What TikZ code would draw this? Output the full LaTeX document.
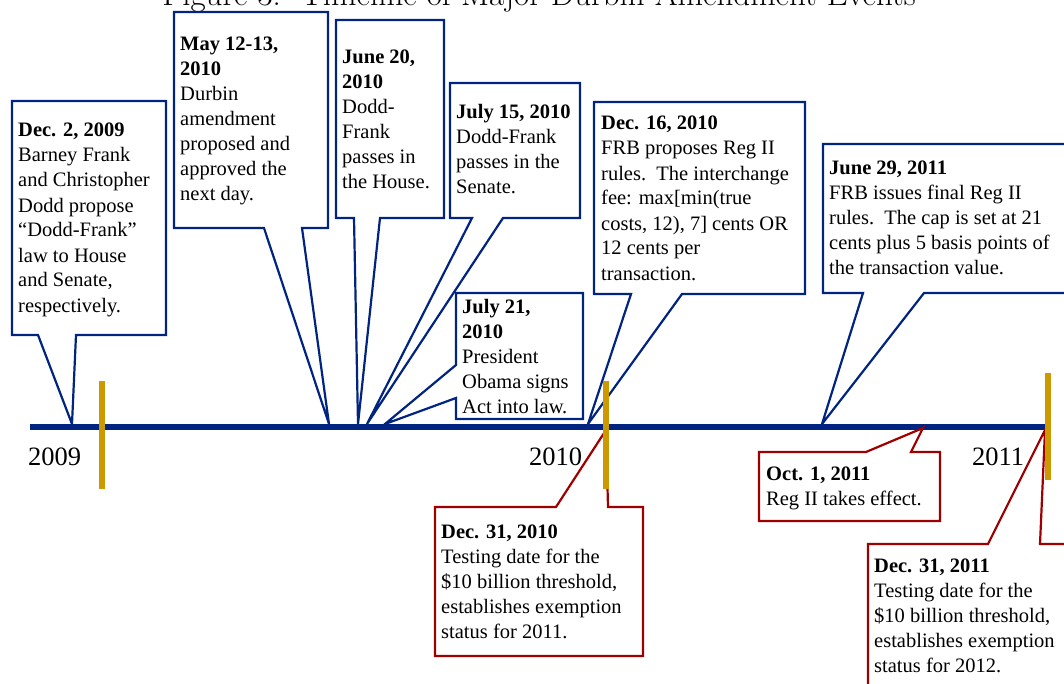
\documentclass[tikz,border=0pt]{standalone}
\usepackage{fontspec}
\newfontfamily\timesfont{Liberation Serif}
\definecolor{lineblue}{RGB}{0,36,128}
\definecolor{boxred}{RGB}{158,0,0}
\definecolor{tickgold}{RGB}{204,153,0}

\begin{document}
\begin{tikzpicture}[x=1pt,y=-1pt,
    every node/.style={inner sep=0pt},
    event/.style={anchor=base west, align=left, font=\timesfont\fontsize{20.5}{25}\selectfont},
    year/.style={anchor=base west, font=\timesfont\fontsize{26.5}{30}\selectfont},
    bluecall/.style={draw=lineblue, line width=2.2pt},
    redcall/.style={draw=boxred, line width=2.2pt},
    yeartick/.style={draw=tickgold, line width=6pt}]
  \useasboundingbox (0,0) rectangle (1064,684);

  % title, cut off by the top of the page
  \node (title) [anchor=base, font=\fontsize{33}{38}\selectfont] at (539,6) {Figure 3:\ \ Timeline of Major Durbin Amendment Events};

  % time line and the points the callouts touch
  \coordinate (line-start) at (30,427);
  \coordinate (line-end) at (1048,427);
  \coordinate (tip-dec2) at (72,424);
  \coordinate (tip-may) at (329,424);
  \coordinate (tip-june20) at (358,424);
  \coordinate (tip-july15) at (367,424);
  \coordinate (tip-july21) at (385,424);
  \coordinate (tip-dec16) at (588,424);
  \coordinate (tip-june29) at (822,424);
  \coordinate (tip-dec31a) at (606,430);
  \coordinate (tip-oct1) at (923,428);
  \coordinate (tip-dec31b) at (1045,430);

  \draw[lineblue, line width=6.5pt] (line-start) -- (line-end);

  % callouts above the line
  \draw[bluecall] (12,101) -- (166,101) -- (166,335) -- (76,335) -- (tip-dec2) -- (38,335) -- (12,335) -- cycle;
  \draw[bluecall] (174,12) -- (328,12) -- (328,228) -- (302,228) -- (tip-may) -- (264,228) -- (174,228) -- cycle;
  \draw[bluecall] (336,20) -- (444,20) -- (444,218) -- (380,218) -- (tip-june20) -- (354,218) -- (336,218) -- cycle;
  \draw[bluecall] (450,83) -- (580,83) -- (580,218) -- (503,218) -- (tip-july15) -- (472,218) -- (450,218) -- cycle;
  \draw[bluecall] (456,293) -- (583,293) -- (583,419) -- (456,419) -- (456,398) -- (tip-july21) -- (456,365) -- cycle;
  \draw[bluecall] (594,102) -- (805,102) -- (805,294) -- (682,294) -- (tip-dec16) -- (631,294) -- (594,294) -- cycle;
  \draw[bluecall] (823,144) -- (1080,144) -- (1080,293) -- (924,293) -- (tip-june29) -- (863,293) -- (823,293) -- cycle;

  % callouts below the line
  \draw[redcall] (435,507) -- (556,507) -- (tip-dec31a) -- (608,507) -- (643,507) -- (643,656) -- (435,656) -- cycle;
  \draw[redcall] (759,452) -- (866,452) -- (tip-oct1) -- (911,452) -- (940,452) -- (940,521) -- (759,521) -- cycle;
  \draw[redcall] (868,544) -- (988,544) -- (tip-dec31b) -- (1040,544) -- (1080,544) -- (1080,700) -- (868,700) -- cycle;

  % year marks
  \draw[yeartick] (102,381) -- (102,489);
  \draw[yeartick] (606,381) -- (606,489);
  \draw[yeartick] (1048,373) -- (1048,480);
  \node (y2009) [year] at (28,465) {2009};
  \node (y2010) [year] at (529,465) {2010};
  \node (y2011) [year] at (972,465) {2011};

  % texts, placed by the baseline of their last line
  \node (dec2) [event] at (18,312) {\textbf{Dec. 2, 2009}\\Barney Frank\\and Christopher\\Dodd propose\\“Dodd-Frank”\\law to House\\and Senate,\\respectively.};
  \node (may) [event] at (180,201) {\textbf{May 12-13,}\\\textbf{2010}\\Durbin\\amendment\\proposed and\\approved the\\next day.};
  \node (june20) [event] at (342,189) {\textbf{June 20,}\\\textbf{2010}\\Dodd-\\Frank\\passes in\\the House.};
  \node (july15) [event] at (456,194) {\textbf{July 15, 2010}\\Dodd-Frank\\passes in the\\Senate.};
  \node (july21) [event] at (462,413) {\textbf{July 21,}\\\textbf{2010}\\President\\Obama signs\\Act into law.};
  \node (dec16) [event] at (601,280) {\textbf{Dec. 16, 2010}\\FRB proposes Reg II\\rules.\ \ The interchange\\fee: max[min(true\\costs, 12), 7] cents OR\\12 cents per\\transaction.};
  \node (june29) [event] at (829,275) {\textbf{June 29, 2011}\\FRB issues final Reg II\\rules.\ \ The cap is set at 21\\cents plus 5 basis points of\\the transaction value.};
  \node (dec31a) [event] at (441,638) {\textbf{Dec. 31, 2010}\\Testing date for the\\\$10 billion threshold,\\establishes exemption\\status for 2011.};
  \node (oct1) [event] at (766,505) {\textbf{Oct. 1, 2011}\\Reg II takes effect.};
  \node (dec31b) [event] at (874,672) {\textbf{Dec. 31, 2011}\\Testing date for the\\\$10 billion threshold,\\establishes exemption\\status for 2012.};
\end{tikzpicture}
\end{document}
